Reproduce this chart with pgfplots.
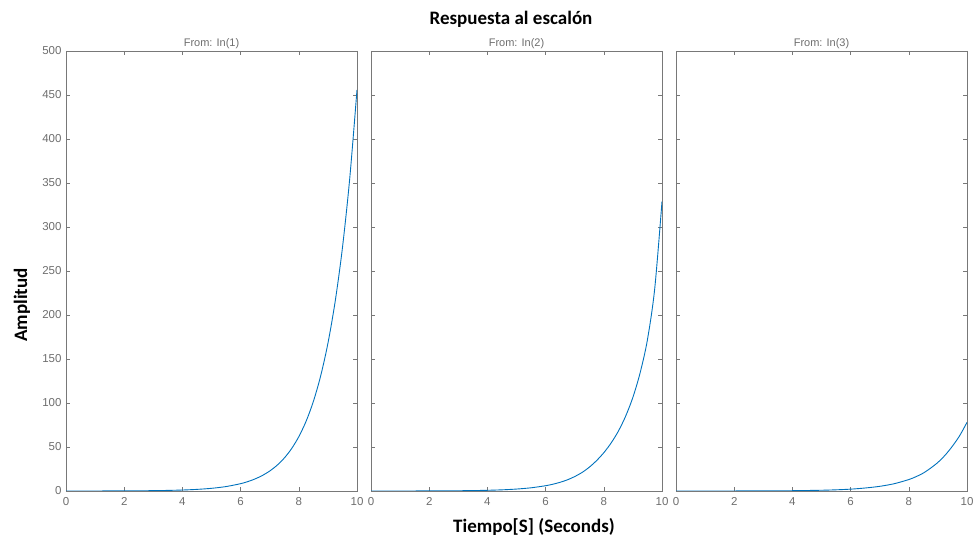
\documentclass[border=0pt]{standalone}
\usepackage{pgfplots}
\pgfplotsset{compat=1.18}
\usepackage{pgfplotstable}
\usepackage{fontspec}
\setmainfont{Liberation Sans}
\newfontfamily\carlito{Carlito}
\definecolor{mblue}{RGB}{0,114,189}
\definecolor{axgray}{RGB}{120,120,120}
\definecolor{txgray}{RGB}{110,110,110}

\pgfplotstableread{
t y
0 0
0.5 0.01
1 0.04
1.5 0.07
2 0.13
2.5 0.23
3 0.40
3.5 0.67
4 1.11
4.5 1.84
5 3.05
5.5 5.04
6 8.33
6.25 10.70
6.5 13.75
6.75 17.66
7 22.68
7.25 29.13
7.5 37.41
7.75 48.04
8 61.69
8.25 79.21
8.5 101.7
8.75 130.6
9 167.7
9.25 215.4
9.5 276.5
9.75 355.1
10 455.9
}\dataA

\pgfplotstableread{
t y
0 0
0.5 0.01
1 0.03
1.5 0.05
2 0.10
2.5 0.17
3 0.29
3.5 0.48
4 0.80
4.5 1.33
5 2.20
5.5 3.64
6 6.0
6.25 7.7
6.5 9.9
6.75 12.7
7 16.4
7.25 21.0
7.5 27.0
7.75 34.5
8 43.5
8.25 54.5
8.5 68.0
8.75 85.0
9 106.5
9.25 134.5
9.5 172
9.75 230
10 329
}\dataB

\pgfplotstableread{
t y
0 0
1 0.02
2 0.05
3 0.13
4 0.34
5 0.85
5.5 1.35
6 2.1
6.5 3.4
7 5.3
7.5 8.3
8 13
8.25 16.3
8.5 20.4
8.75 26
9 32.5
9.25 40.8
9.5 51
9.75 63
10 78
}\dataC

\pgfplotsset{
  panel/.style={
    scale only axis,
    width=291pt, height=440pt,
    xmin=0, xmax=10, ymin=0, ymax=500,
    xtick={0,2,4,6,8,10},
    ytick={0,50,...,500},
    tick align=inside,
    major tick length=4pt,
    axis line style={axgray, line width=0.6pt},
    every tick/.style={axgray, line width=0.6pt},
    tick label style={font=\fontsize{11.5}{12}\selectfont, text=txgray},
    /pgf/number format/assume math mode=true,
    xticklabel style={yshift=-3pt},
    yticklabel style={xshift=-1pt},
    title style={font=\fontsize{11}{12}\selectfont, text=txgray, at={(0.5,1)}, anchor=south, yshift=-7pt},
    anchor=south west,
  },
  curve/.style={mblue, line width=0.9pt, no marks, smooth},
}

\begin{document}
\begin{tikzpicture}
\path[use as bounding box] (0,0) rectangle (974pt,540pt);

\begin{axis}[panel, at={(66pt,49pt)}, title={From: In(1)}]
\addplot[curve] table[x=t,y=y] {\dataA};
\end{axis}

\begin{axis}[panel, at={(371pt,49pt)}, title={From: In(2)}, yticklabels={}]
\addplot[curve] table[x=t,y=y] {\dataB};
\end{axis}

\begin{axis}[panel, at={(676pt,49pt)}, title={From: In(3)}, yticklabels={}]
\addplot[curve] table[x=t,y=y] {\dataC};
\end{axis}

\node[font=\carlito\bfseries\fontsize{19}{20}\selectfont] at (511pt,521pt) {Respuesta al escalón};
\node[font=\carlito\bfseries\fontsize{19}{20}\selectfont] at (534pt,13pt) {Tiempo[S] (Seconds)};
\node[font=\carlito\bfseries\fontsize{19}{20}\selectfont, rotate=90] at (22pt,235pt) {Amplitud};
\end{tikzpicture}
\end{document}
